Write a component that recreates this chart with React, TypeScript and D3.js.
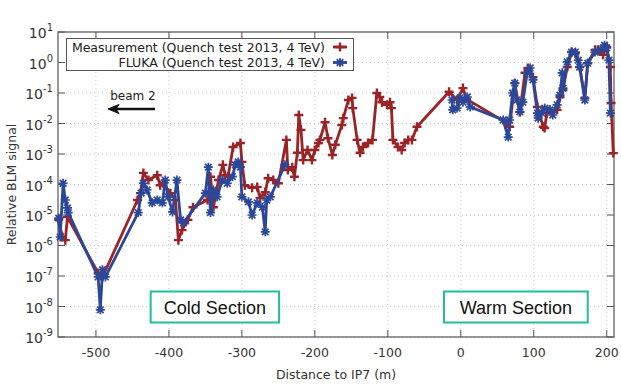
import React, { useEffect, useRef } from 'react';
import * as d3 from 'd3';

// Measurement (Quench test 2013, 4 TeV): distance to IP7 (m) / relative BLM signal
const measDist = [
  -551, -546, -542, -539, -497, -491, -443, -439, -435, -428, -416, -412, -408, -398, -391, -387,
  -382, -374, -367, -347, -343, -339, -332, -326, -323, -319, -312, -302, -300, -296, -286, -279,
  -275, -268, -264, -257, -250, -239, -237, -231, -228, -224, -222, -219, -216, -210, -204, -200,
  -195, -193, -186, -182, -176, -172, -163, -161, -154, -149, -148, -142, -138, -134, -127, -121,
  -115, -111, -108, -101, -97, -95, -93, -86, -81, -77, -72, -67, -60, -16, -5, 3, 8, 63, 67, 74,
  81, 88, 92, 99, 105, 113, 115, 118, 122, 132, 136, 140, 146, 152, 157, 163, 170, 174, 184, 188,
  195, 200, 205, 206, 209,
];
const measVal = [
  6.9e-6, 1.9e-6, 1.5e-6, 8.5e-6, 1.26e-7, 9.3e-8, 3.1e-5, 5.2e-5, 2.4e-4, 1.4e-4, 2.0e-4, 9.5e-5,
  1.1e-4, 5.2e-5, 3.1e-5, 1.5e-6, 3.2e-6, 6.9e-6, 1.8e-5, 3.1e-5, 1.8e-4, 1.8e-5, 1.4e-4, 4.4e-4,
  2.0e-4, 1.8e-4, 1.7e-3, 2.3e-3, 5.5e-4, 9.5e-5, 7.8e-5, 8.3e-5, 3.6e-5, 5.6e-5, 1.6e-4, 1.4e-4,
  1.1e-4, 2.9e-3, 3.0e-4, 3.7e-4, 1.8e-4, 1.1e-3, 1.9e-2, 6.2e-3, 6.3e-4, 1.35e-3, 6.3e-4, 1.35e-3,
  2.3e-3, 2.9e-3, 1.1e-2, 3.3e-3, 9.3e-4, 2.0e-3, 8.9e-3, 1.5e-2, 5.9e-2, 6.9e-2, 3.2e-2, 2.9e-3,
  1.1e-3, 1.7e-3, 2.3e-3, 2.9e-3, 1.0e-1, 7.4e-2, 5.0e-2, 4.1e-2, 5.0e-2, 3.2e-2, 2.9e-3, 1.7e-3,
  1.35e-3, 2.3e-3, 2.9e-3, 2.9e-3, 7.8e-3, 1.1e-1, 5.9e-2, 1.45e-1, 6.3e-2, 1.05e-2, 7.8e-3, 2.1e-1,
  2.4e-2, 4.6e-1, 6.6e-1, 3.3e-1, 3.5e-2, 7.8e-3, 7.1e-3, 2.2e-2, 2.8e-2, 2.8e-2, 7.4e-2, 1.26e-1,
  7.1e-1, 2.2, 2.0, 7.1e-1, 6.9e-2, 9.5e-1, 2.6, 2.6, 1.8, 3.2, 7.1e-1, 4.7e-2, 1.07e-3,
];

// FLUKA (Quench test 2013, 4 TeV); null marks the gap between the two simulated stretches
const flukaDist = [
  -551, -549, -545, -542, -539, -538, -497, -494, -491, -487, -442, -438, -435, -430, -423, -416,
  -409, -405, -401, -395, -389, -384, -380, -350, -346, -343, -339, -334, -327, -320, -313, -309,
  -305, -302, -300, -291, -286, -279, -272, -268, -266, -261, -241, null, -12, -11, -5, -1, 3, 9,
  13, 58, 65, 67, 71, 74, 77, 81, 85, 91, 95, 99, 105, 106, 111, 115, 122, 126, 132, 136, 139, 140,
  146, 152, 157, 161, 163, 170, 174, 184, 191, 197, 200, 203, 205,
];
const flukaVal = [
  7.9e-6, 1.9e-6, 1.1e-4, 3.1e-5, 1.7e-5, 1.2e-5, 9.3e-8, 7.8e-9, 1.6e-7, 9.3e-8, 1.2e-5, 5.2e-5,
  1.1e-4, 6.6e-5, 2.5e-5, 3.1e-5, 2.5e-5, 1.4e-4, 3.9e-5, 1.26e-5, 1.4e-4, 6.9e-6, 5.5e-6, 5.2e-5,
  3.7e-4, 1.2e-5, 6.6e-5, 3.9e-5, 1.4e-4, 1.1e-4, 1.8e-4, 4.4e-4, 5.5e-4, 3.7e-4, 3.9e-5, 2.7e-5,
  1.0e-5, 2.5e-5, 1.8e-5, 2.8e-6, 3.1e-5, 3.9e-5, 4.4e-4, null, 5.9e-2, 2.8e-2, 3.2e-2, 6.9e-2,
  5.0e-2, 7.4e-2, 3.5e-2, 1.3e-2, 3.6e-3, 1.3e-2, 1.0e-1, 2.1e-1, 5.9e-2, 2.4e-2, 5.0e-2, 4.6e-1,
  6.6e-1, 2.7e-1, 2.2e-2, 1.5e-2, 2.2e-2, 3.2e-2, 2.8e-2, 1.9e-2, 4.1e-2, 8.5e-2, 4.6e-1, 1.45e-1,
  1.05, 2.2, 2.2, 1.2, 7.1e-1, 5.9e-2, 9.5e-1, 2.2, 2.6, 3.7, 3.0, 1.2, 2.2e-2,
];

const xTicks = [-500, -400, -300, -200, -100, 0, 100, 200];
const yExponents = [1, 0, -1, -2, -3, -4, -5, -6, -7, -8, -9];
const legendLabels = ['Measurement (Quench test 2013, 4 TeV)', 'FLUKA (Quench test 2013, 4 TeV)'];
const sectionLabels = [
  { text: 'Cold Section', from: -425, to: -249 },
  { text: 'Warm Section', from: -23, to: 174 },
];

const RED = '#9b2326';
const BLUE = '#2a4799';
const FONT = "'DejaVu Sans', sans-serif";

export default function App() {
  const ref = useRef<SVGSVGElement>(null);

  useEffect(() => {
    const width = 621;
    const height = 387;
    const m = { left: 58, right: 7, top: 32, bottom: 50 };

    const svg = d3.select(ref.current);
    svg.selectAll('*').remove();

    const x = d3.scaleLinear().domain([-552, 210]).range([m.left, width - m.right]);
    const y = d3.scaleLog().domain([1e-9, 10]).range([height - m.bottom, m.top]);
    const [x0, x1] = x.range();
    const [y0, y1] = y.range();

    // dotted grid
    const grid = svg.append('g').attr('stroke', '#c8c8c8').attr('stroke-width', 1).attr('stroke-dasharray', '1,3');
    grid.selectAll('.gx').data(xTicks).enter().append('line')
      .attr('x1', d => x(d)).attr('x2', d => x(d)).attr('y1', y1).attr('y2', y0);
    grid.selectAll('.gy').data(yExponents).enter().append('line')
      .attr('x1', x0).attr('x2', x1).attr('y1', d => y(Math.pow(10, d))).attr('y2', d => y(Math.pow(10, d)));

    // inward ticks on all four sides
    const ticks = svg.append('g').attr('stroke', '#555').attr('stroke-width', 1);
    xTicks.forEach(t => {
      ticks.append('line').attr('x1', x(t)).attr('x2', x(t)).attr('y1', y0).attr('y2', y0 - 7);
      ticks.append('line').attr('x1', x(t)).attr('x2', x(t)).attr('y1', y1).attr('y2', y1 + 7);
    });
    yExponents.forEach(e => {
      const yy = y(Math.pow(10, e));
      ticks.append('line').attr('x1', x0).attr('x2', x0 + 7).attr('y1', yy).attr('y2', yy);
      ticks.append('line').attr('x1', x1).attr('x2', x1 - 7).attr('y1', yy).attr('y2', yy);
    });

    svg.append('rect')
      .attr('x', x0).attr('y', y1).attr('width', x1 - x0).attr('height', y0 - y1)
      .attr('fill', 'none').attr('stroke', '#555').attr('stroke-width', 1.2);

    // tick labels
    svg.append('g').selectAll('text').data(xTicks).enter().append('text')
      .attr('x', d => x(d)).attr('y', y0 + 20)
      .attr('text-anchor', 'middle').attr('font-family', FONT).attr('font-size', 12.5).attr('fill', '#333')
      .text(d => String(d));

    const yl = svg.append('g').selectAll('text').data(yExponents).enter().append('text')
      .attr('x', x0 - 5).attr('y', d => y(Math.pow(10, d)) + 6)
      .attr('text-anchor', 'end').attr('font-family', FONT).attr('fill', '#333');
    yl.append('tspan').attr('font-size', 14).text('10');
    yl.append('tspan').attr('font-size', 10).attr('dy', -7).text(d => String(d));

    // axis titles
    svg.append('text')
      .attr('x', (x0 + x1) / 2).attr('y', height - 8).attr('text-anchor', 'middle')
      .attr('font-family', FONT).attr('font-size', 12.5).attr('fill', '#333')
      .text('Distance to IP7 (m)');
    svg.append('text')
      .attr('transform', `translate(16, ${(y0 + y1) / 2}) rotate(-90)`).attr('text-anchor', 'middle')
      .attr('font-family', FONT).attr('font-size', 12.5).attr('fill', '#333')
      .text('Relative BLM signal');

    // beam direction
    svg.append('text')
      .attr('x', 133).attr('y', 100).attr('text-anchor', 'middle')
      .attr('font-family', FONT).attr('font-size', 12).attr('fill', '#222').text('beam 2');
    svg.append('path').attr('d', 'M112,109H155').attr('stroke', '#111').attr('stroke-width', 2.5);
    svg.append('path').attr('d', 'M108,109L119,104.5L116,109L119,113.5Z').attr('fill', '#111')
      .attr('stroke', '#111').attr('stroke-width', 1).attr('stroke-linejoin', 'round');

    // series
    const plus = 'M-4.5,0H4.5M0,-4.5V4.5';
    const star = 'M-4.5,0H4.5M0,-4.5V4.5M-3.3,-3.3L3.3,3.3M-3.3,3.3L3.3,-3.3';
    const series = [
      { dist: measDist, val: measVal, color: RED, marker: plus, mw: 2.4 },
      { dist: flukaDist, val: flukaVal, color: BLUE, marker: star, mw: 1.7 },
    ];

    const line = d3.line<[number | null, number | null]>()
      .defined(d => d[0] !== null && d[1] !== null)
      .x(d => x(d[0] as number))
      .y(d => y(d[1] as number));

    const plot = svg.append('g');
    series.forEach(s => {
      const pts = s.dist.map((d, i) => [d, s.val[i]] as [number | null, number | null]);
      plot.append('path').attr('d', line(pts))
        .attr('fill', 'none').attr('stroke', s.color).attr('stroke-width', 2.8).attr('stroke-linejoin', 'round');
      plot.selectAll(null).data(pts.filter(p => p[0] !== null)).enter().append('path')
        .attr('transform', d => `translate(${x(d[0] as number)},${y(d[1] as number)})`)
        .attr('d', s.marker).attr('stroke', s.color).attr('stroke-width', s.mw);
    });

    // legend
    const lg = svg.append('g');
    lg.append('rect').attr('x', 66.5).attr('y', 38.5).attr('width', 287).attr('height', 32)
      .attr('fill', 'white').attr('stroke', '#555').attr('stroke-width', 1);
    legendLabels.forEach((t, i) => {
      const ly = 47 + i * 15.5;
      lg.append('text').attr('x', 325).attr('y', ly + 4.5).attr('text-anchor', 'end')
        .attr('font-family', FONT).attr('font-size', 12.5).attr('fill', '#222').text(t);
      lg.append('path').attr('d', `M333,${ly}H347`).attr('stroke', series[i].color).attr('stroke-width', 2.8);
      lg.append('path').attr('transform', `translate(340,${ly})`).attr('d', series[i].marker)
        .attr('stroke', series[i].color).attr('stroke-width', series[i].mw);
    });

    // section boxes
    sectionLabels.forEach(s => {
      const bx = x(s.from);
      const bw = x(s.to) - bx;
      svg.append('rect').attr('x', bx).attr('y', 291.5).attr('width', bw).attr('height', 31)
        .attr('fill', 'white').attr('stroke', '#22bf94').attr('stroke-width', 2);
      svg.append('text').attr('x', bx + bw / 2).attr('y', 313.5).attr('text-anchor', 'middle')
        .attr('font-family', "'Liberation Sans', Arial, sans-serif").attr('font-size', 18).attr('fill', '#111')
        .text(s.text);
    });
  }, []);

  return (
    <svg ref={ref} width={621} height={387}
      style={{ position: 'absolute', left: 0, top: 0, background: 'white' }} />
  );
}
